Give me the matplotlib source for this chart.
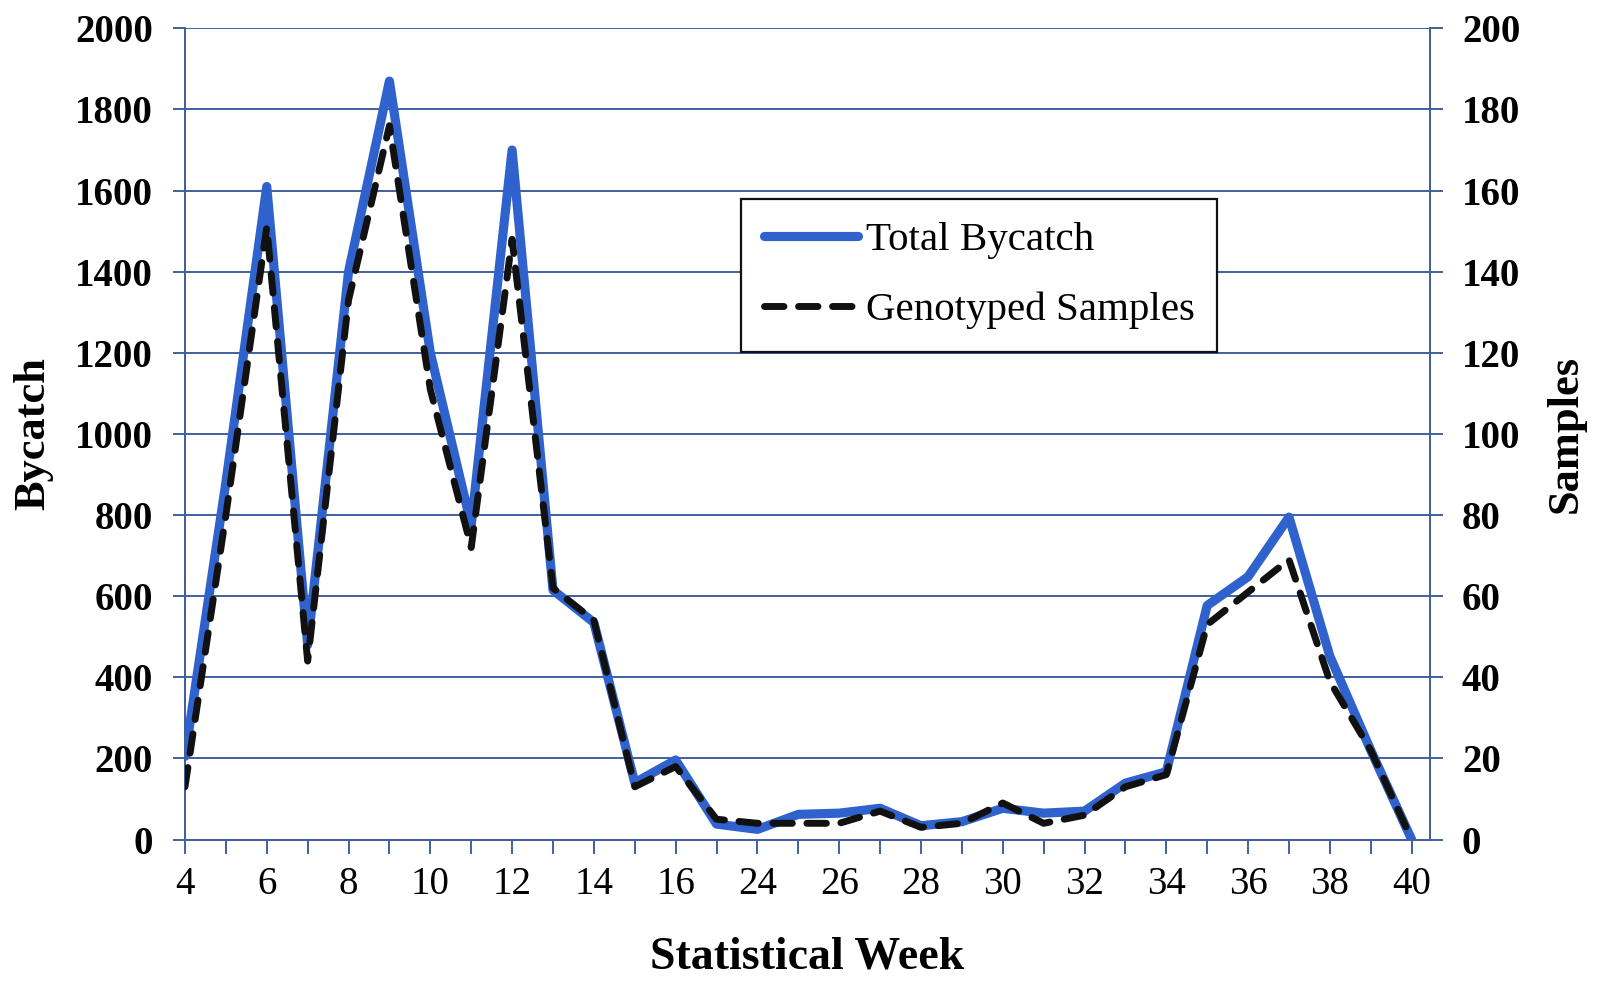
"""Weekly total bycatch and genotyped samples, dual y-axis line chart."""

import matplotlib

matplotlib.use("Agg")

import matplotlib.pyplot as plt
from matplotlib.lines import Line2D
import numpy as np


WEEKS = [4, 5, 6, 7, 8, 9, 10, 11, 12, 13, 14, 15, 16, 17,
         24, 25, 26, 27, 28, 29, 30, 31, 32, 33, 34, 35, 36, 37, 38, 39, 40]
BYCATCH = [205, 880, 1610, 480, 1400, 1870, 1200, 775, 1700, 615, 535, 140, 196, 38,
           25, 62, 65, 77, 34, 44, 77, 65, 70, 139, 167, 577, 648, 795, 452, 220, 0]
SAMPLES = [13, 80, 151, 44, 133, 176, 111, 72, 148, 62, 54, 13, 18, 5,
           4, 4, 4, 7, 3, 4, 9, 4, 6, 13, 16, 53, 61, 69, 39, 22, 0]
LEFT_TICKS = list(range(0, 2001, 200))
RIGHT_TICKS = list(range(0, 201, 20))

BLUE = "#2F62CC"
GRID = "#40609E"
SERIF = ["Liberation Serif", "DejaVu Serif"]
DASH = (0, (2.8, 2.1))


def main() -> None:
    plt.rcParams["font.family"] = SERIF
    fig = plt.figure(figsize=(16.03, 9.82), dpi=100)
    ax = fig.add_axes([0.1154, 0.1451, 0.7767, 0.826])
    ax2 = ax.twinx()

    x = np.arange(len(WEEKS))
    ax.plot(x, BYCATCH, color=BLUE, linewidth=6.6, solid_joinstyle="round",
            solid_capstyle="round", zorder=3)
    ax2.plot(x, SAMPLES, color="#111111", linewidth=5.0, linestyle=DASH,
             dash_capstyle="round", dash_joinstyle="round", zorder=4)

    ax.set_xlim(0, 30.45)
    ax.set_ylim(0, 2000)
    ax2.set_ylim(0, 200)
    ax.set_yticks(LEFT_TICKS)
    ax2.set_yticks(RIGHT_TICKS)
    ax.set_xticks(x)
    ax.set_xticklabels([str(w) if i % 2 == 0 else "" for i, w in enumerate(WEEKS)])

    ax.grid(axis="y", color=GRID, linewidth=1.4)
    ax.set_axisbelow(True)
    for a in (ax, ax2):
        for side in ("left", "right", "bottom"):
            a.spines[side].set_color(GRID)
            a.spines[side].set_linewidth(1.4)
        a.spines["top"].set_visible(False)

    ax.tick_params(axis="x", direction="out", length=10, width=1.4, color=GRID,
                   pad=9, labelsize=28)
    ax.tick_params(axis="y", direction="out", length=9, width=1.4, color=GRID,
                   pad=14, labelsize=28)
    ax2.tick_params(axis="y", direction="out", length=9, width=1.4, color=GRID,
                    pad=14, labelsize=28)
    for lab in ax.get_yticklabels() + ax2.get_yticklabels():
        lab.set_fontweight("bold")

    ax.set_xlabel("Statistical Week", fontsize=33, fontweight="bold", labelpad=24)
    ax.set_ylabel("Bycatch", fontsize=32, fontweight="bold", labelpad=16)
    ax2.set_ylabel("Samples", fontsize=32, fontweight="bold", labelpad=18)

    handles = [
        Line2D([], [], color=BLUE, linewidth=6.6, solid_capstyle="round"),
        Line2D([], [], color="#111111", linewidth=5.0, linestyle=DASH,
               dash_capstyle="round"),
    ]
    leg = ax2.legend(handles, ["Total Bycatch", "Genotyped Samples"],
                     loc="upper left", bbox_to_anchor=(0.4466, 0.790),
                     borderaxespad=0, fontsize=29.5, frameon=True, fancybox=False,
                     framealpha=1, edgecolor="#111111", borderpad=0.55,
                     labelspacing=0.8, handlelength=2.3, handletextpad=0.2)
    leg.get_frame().set_linewidth(1.6)

    fig.savefig("out.png", dpi=100, facecolor="white")
    plt.close(fig)


if __name__ == "__main__":
    main()
